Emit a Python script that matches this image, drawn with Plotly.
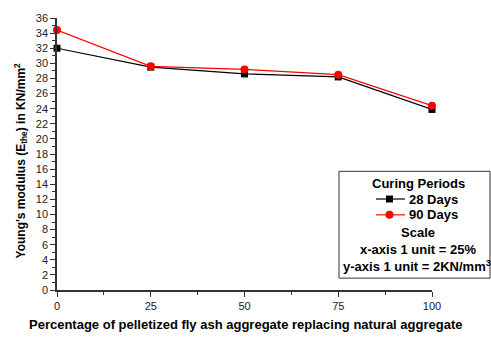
import plotly.graph_objects as go

x_pct = [0, 25, 50, 75, 100]
days28 = [32.0, 29.5, 28.6, 28.2, 23.9]
days90 = [34.4, 29.6, 29.2, 28.5, 24.4]
x_ticks = [0, 25, 50, 75, 100]
y_ticks = list(range(0, 37, 2))

W, H = 491, 338
L, R, T, B = 57, 432, 15, 290

def px(xp):
    return (xp - L) / (R - L)

def py(yp):
    return (B - yp) / (B - T)

FONT = "Liberation Sans, Arial, sans-serif"

fig = go.Figure()
fig.add_trace(go.Scatter(x=x_pct, y=days28, mode="lines+markers", name="28 Days",
                         line=dict(color="black", width=1.2),
                         marker=dict(symbol="square", size=7, color="black"),
                         cliponaxis=False))
fig.add_trace(go.Scatter(x=x_pct, y=days90, mode="lines+markers", name="90 Days",
                         line=dict(color="#ff0000", width=1.2),
                         marker=dict(symbol="circle", size=8, color="#ff0000"),
                         cliponaxis=False))

fig.update_layout(
    width=W, height=H,
    margin=dict(l=L, r=W - R, t=T, b=H - B),
    plot_bgcolor="white", paper_bgcolor="white",
    showlegend=False,
    font=dict(family=FONT, size=11, color="black"),
)
fig.update_xaxes(range=[0, 100], tickvals=x_ticks, ticks="outside", ticklen=5,
                 tickwidth=1, tickcolor="#333", showline=True, linecolor="#333",
                 linewidth=1.5, showgrid=False, zeroline=False,
                 minor=dict(ticks="outside", ticklen=3, tickvals=[12.5, 37.5, 62.5, 87.5], tickcolor="#333"),
                 tickfont=dict(size=11, color="#222"))
fig.update_yaxes(range=[0, 36], tickvals=y_ticks, ticks="outside", ticklen=5,
                 tickwidth=1, tickcolor="#333", showline=True, linecolor="#333",
                 linewidth=1.5, showgrid=False, zeroline=False,
                 minor=dict(ticks="outside", ticklen=3, tickvals=list(range(1, 36, 2)), tickcolor="#333"),
                 tickfont=dict(size=11, color="#222"))

def txt(t, xc, yc, xanchor="center", size=13, angle=0):
    fig.add_annotation(text=t, xref="paper", yref="paper", x=px(xc), y=py(yc),
                       xanchor=xanchor, yanchor="middle", showarrow=False, textangle=angle,
                       font=dict(family=FONT, size=size, color="black"))

# axis titles
txt("<b>Percentage of pelletized fly ash aggregate replacing natural aggregate</b>", 245, 325)
txt("<b>Young's modulus (E<sub>the</sub>) in KN/mm<sup>2</sup></b>", 21, 159, size=12, angle=-90)

# legend box
fig.add_shape(type="rect", xref="paper", yref="paper",
              x0=px(339), x1=px(490), y0=py(278), y1=py(170),
              line=dict(color="#333", width=1), fillcolor="white", layer="above")

txt("<b>Curing Periods</b>", 418, 182)
txt("<b>28 Days</b>", 407, 198, "left")
txt("<b>90 Days</b>", 407, 214, "left")
txt("<b>Scale</b>", 418, 232)
txt("<b>x-axis 1 unit = 25%</b>", 418, 249)
txt("<b>y-axis 1 unit = 2KN/mm<sup>3</sup></b>", 417, 266)

# legend samples
fig.add_shape(type="line", xref="paper", yref="paper", x0=px(376), x1=px(405),
              y0=py(198), y1=py(198), line=dict(color="black", width=1.2))
fig.add_shape(type="rect", xref="paper", yref="paper", x0=px(386), x1=px(393),
              y0=py(201.5), y1=py(194.5), line=dict(color="black", width=0), fillcolor="black")
fig.add_shape(type="line", xref="paper", yref="paper", x0=px(376), x1=px(405),
              y0=py(214), y1=py(214), line=dict(color="#ff0000", width=1.2))
fig.add_shape(type="circle", xref="paper", yref="paper", x0=px(385.5), x1=px(393.5),
              y0=py(218), y1=py(210), line=dict(color="#ff0000", width=0), fillcolor="#ff0000")

fig.write_html("out.html")
